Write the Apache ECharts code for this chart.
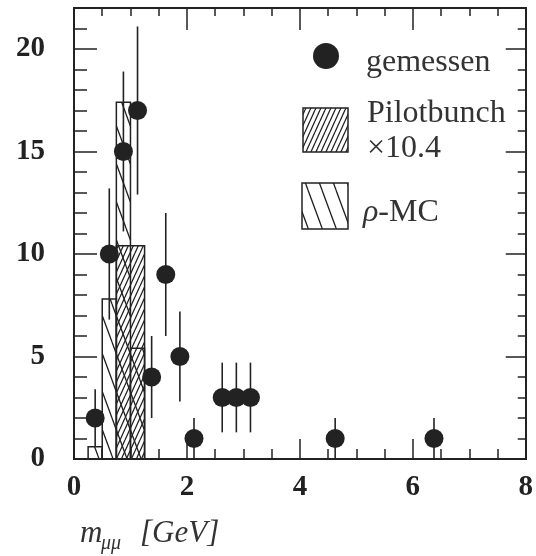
<!DOCTYPE html>
<html>
<head>
<meta charset="utf-8">
<script src="https://cdn.jsdelivr.net/npm/echarts@6/dist/echarts.min.js"></script>
<style>
  html, body { margin: 0; padding: 0; background: #fff; }
  #chart { width: 536px; height: 556px; }
</style>
</head>
<body>
<div id="chart"></div>
<script>
// Measured dimuon invariant-mass spectrum (0.25 GeV bins)
const massCenters = [0.375, 0.625, 0.875, 1.125, 1.375, 1.625, 1.875, 2.125, 2.625, 2.875, 3.125, 4.625, 6.375];
const eventCounts = [2, 10, 15, 17, 4, 9, 5, 1, 3, 3, 3, 1, 1];
const countErrors = [1.4, 3.2, 3.9, 4.1, 2.0, 3.0, 2.2, 1.0, 1.7, 1.7, 1.7, 1.0, 1.0];

// Pilot-bunch background, scaled by 10.4
const pilotLow = [0.75];
const pilotHigh = [1.25];
const pilotCounts = [10.4];

// rho Monte Carlo expectation
const rhoLow = [0.25, 0.5, 0.75, 1.0];
const rhoHigh = [0.5, 0.75, 1.0, 1.25];
const rhoCounts = [0.6, 7.8, 17.4, 5.4];

// Axis ranges and tick steps
const xRange = [0, 8];
const yRange = [0, 22];
const xMajorStep = 2, xMinorStep = 0.5;
const yMajorStep = 5, yMinorStep = 1;
const yLabelMax = 20;

const INK = '#222';
const serif = '"Liberation Serif", "DejaVu Serif", serif';

// Diagonal hatch tile: dir > 0 draws '/', dir < 0 draws '\'
function hatchTile(w, h, dir, lw) {
  const c = document.createElement('canvas');
  c.width = w; c.height = h;
  const g = c.getContext('2d');
  g.strokeStyle = INK;
  g.lineWidth = lw;
  g.beginPath();
  for (let k = -1; k <= 1; k++) {
    if (dir > 0) { g.moveTo(k * w, h); g.lineTo(k * w + w, 0); }
    else { g.moveTo(k * w, 0); g.lineTo(k * w + w, h); }
  }
  g.stroke();
  return c;
}
const pilotHatch = { image: hatchTile(5, 11, 1, 1.3), repeat: 'repeat' };
const rhoHatch = { image: hatchTile(14, 38, -1, 1.3), repeat: 'repeat' };

function histogramRenderer(fill) {
  return function (params, api) {
    const p0 = api.coord([api.value(0), api.value(2)]);
    const p1 = api.coord([api.value(1), 0]);
    return {
      type: 'rect',
      shape: { x: p0[0], y: p0[1], width: p1[0] - p0[0], height: p1[1] - p0[1] },
      style: { fill: fill, stroke: INK, lineWidth: 1.5 }
    };
  };
}

function errorBarRenderer(params, api) {
  const x = api.value(0), y = api.value(1), e = api.value(2);
  const top = api.coord([x, y + e]);
  const bot = api.coord([x, Math.max(0, y - e)]);
  return {
    type: 'line',
    shape: { x1: top[0], y1: top[1], x2: bot[0], y2: bot[1] },
    style: { stroke: INK, lineWidth: 1.6 }
  };
}

function axis(kind, position, step, tickLen, opts) {
  const range = kind === 'x' ? xRange : yRange;
  return Object.assign({
    type: 'value',
    position: position,
    min: range[0],
    max: range[1],
    interval: step,
    axisLine: { show: true, onZero: false, lineStyle: { color: INK, width: 1.8 } },
    axisTick: { show: true, inside: true, length: tickLen, lineStyle: { color: INK, width: 1.5 } },
    axisLabel: { show: false },
    splitLine: { show: false }
  }, opts || {});
}

const labelStyle = {
  show: true,
  color: INK,
  fontFamily: serif,
  fontWeight: 'bold',
  fontSize: 29
};

const chart = echarts.init(document.getElementById('chart'), null, { renderer: 'canvas' });

chart.setOption({
  animation: false,
  backgroundColor: '#fff',
  grid: { left: 74, top: 8, width: 453.5, height: 451, containLabel: false },
  xAxis: [
    axis('x', 'bottom', xMajorStep, 20, {
      axisLabel: Object.assign({}, labelStyle, { margin: 14 })
    }),
    axis('x', 'bottom', xMinorStep, 10),
    axis('x', 'top', xMajorStep, 22),
    axis('x', 'top', xMinorStep, 8)
  ],
  yAxis: [
    axis('y', 'left', yMajorStep, 23, {
      axisLabel: Object.assign({}, labelStyle, {
        margin: 29,
        formatter: v => (v > yLabelMax ? '' : String(v))
      })
    }),
    axis('y', 'left', yMinorStep, 13),
    axis('y', 'right', yMajorStep, 20),
    axis('y', 'right', yMinorStep, 8)
  ],
  series: [
    {
      type: 'custom',
      name: 'rho-MC',
      xAxisIndex: 0, yAxisIndex: 0,
      renderItem: histogramRenderer(rhoHatch),
      encode: { x: [0, 1], y: 2 },
      data: rhoLow.map((lo, i) => [lo, rhoHigh[i], rhoCounts[i]]),
      z: 2
    },
    {
      type: 'custom',
      name: 'Pilotbunch',
      xAxisIndex: 0, yAxisIndex: 0,
      renderItem: histogramRenderer(pilotHatch),
      encode: { x: [0, 1], y: 2 },
      data: pilotLow.map((lo, i) => [lo, pilotHigh[i], pilotCounts[i]]),
      z: 3
    },
    {
      type: 'custom',
      name: 'errors',
      xAxisIndex: 0, yAxisIndex: 0,
      renderItem: errorBarRenderer,
      encode: { x: 0, y: 1 },
      data: massCenters.map((m, i) => [m, eventCounts[i], countErrors[i]]),
      z: 4
    },
    {
      type: 'scatter',
      name: 'gemessen',
      xAxisIndex: 0, yAxisIndex: 0,
      symbol: 'circle',
      symbolSize: 19,
      itemStyle: { color: INK, opacity: 1 },
      data: massCenters.map((m, i) => [m, eventCounts[i]]),
      z: 5
    }
  ],
  graphic: [
    // legend
    { type: 'circle', shape: { cx: 326, cy: 56, r: 13 }, style: { fill: INK } },
    { type: 'text', left: 366, top: 47, style: { text: 'gemessen', font: '32px ' + serif, fill: '#333' } },
    { type: 'rect', shape: { x: 303, y: 108, width: 45, height: 44 }, style: { fill: pilotHatch, stroke: INK, lineWidth: 1.5 } },
    { type: 'text', left: 367, top: 98, style: { text: 'Pilotbunch', font: '32px ' + serif, fill: '#333' } },
    { type: 'text', left: 367, top: 133, style: { text: '\u00d710.4', font: '32px ' + serif, fill: '#333' } },
    { type: 'rect', shape: { x: 302, y: 183, width: 46, height: 46 }, style: { fill: rhoHatch, stroke: INK, lineWidth: 1.5 } },
    { type: 'text', left: 363, top: 197, style: {
        text: '{i|\u03c1}-MC', font: '32px ' + serif, fill: '#333',
        rich: { i: { fontStyle: 'italic', fontFamily: serif, fontSize: 32, fill: '#333' } }
    } },
    // x-axis title
    { type: 'text', left: 80, top: 518, style: { text: 'm', font: 'italic 31px ' + serif, fill: '#333' } },
    { type: 'text', left: 101, top: 534, style: { text: '\u03bc\u03bc', font: 'italic 20px ' + serif, fill: '#333' } },
    { type: 'text', left: 140, top: 518, style: { text: '[GeV]', font: 'italic 31px ' + serif, fill: '#333' } }
  ]
});
</script>
</body>
</html>
